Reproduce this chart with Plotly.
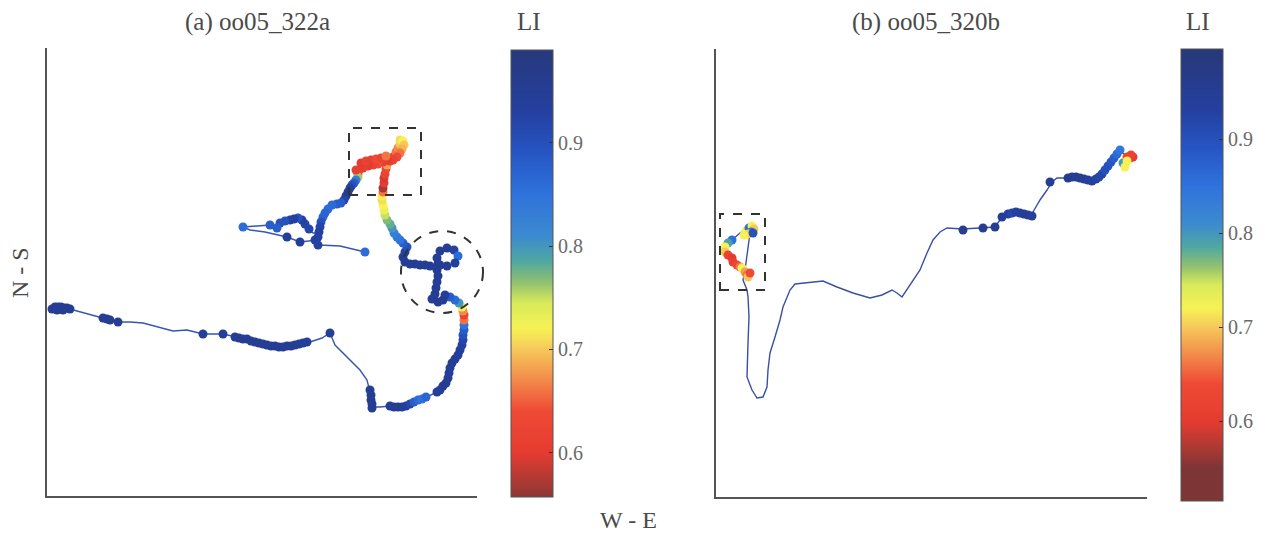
import plotly.graph_objects as go

# ---------------- data (distance units, easting / northing) ----------------
# Panel (a) oo05_322a : full track
track_a_x = [6, 11, 19, 26, 36, 48, 56, 63, 71, 83, 96, 110, 126, 140, 156, 176, 190, 203, 218, 233,
             248, 263, 275, 283, 288, 300, 313, 320, 323, 325, 333, 343, 353, 363, 370, 380, 390, 400,
             403, 410, 416, 417, 417, 415, 408, 398, 391, 385, 388, 390, 391, 390, 390, 393, 400, 407,
             411, 408, 400, 393, 383, 373, 363, 358, 356, 360, 353, 346, 340, 336, 335, 336, 338, 341,
             346, 351, 353, 356, 353, 346, 336, 326, 316, 311, 311, 308, 303, 298, 293, 283, 280, 275,
             273, 271, 266, 256, 250, 243, 233, 230, 223, 208, 196, 203, 218, 240, 253, 270, 273, 293,
             308, 318]
track_a_y = [187, 189, 188, 186, 183, 180, 178, 176, 174, 174, 173, 169, 165, 166, 162, 162, 159, 156, 152, 149,
             151, 154, 158, 163, 151, 139, 126, 116, 104, 89, 89, 90, 89, 92, 96, 99, 104, 114,
             129, 139, 153, 169, 181, 189, 196, 198, 194, 197, 205, 214, 220, 226, 238, 245, 248, 246,
             240, 233, 230, 231, 230, 231, 232, 234, 239, 249, 256, 263, 276, 286, 299, 309, 319, 333,
             339, 348, 356, 353, 343, 336, 334, 331, 328, 324, 319, 314, 309, 299, 293, 291, 286, 279,
             269, 263, 263, 274, 279, 276, 273, 268, 271, 270, 269, 266, 264, 259, 254, 256, 251, 250,
             246, 244]

# Panel (a): positional fixes and their LI value
fix_a_x = [5, 8, 11, 14, 17, 20, 23, 10, 16,
           56, 60, 63, 71, 156, 176,
           188, 192, 196, 200, 204, 208, 212, 216, 220, 224, 228, 232, 236, 240, 244, 248, 252, 256, 260, 283,
           323, 324, 324, 325, 325,
           343, 347, 351, 355, 359, 363, 367, 371, 375, 379,
           390, 393, 396, 399, 401, 402, 403, 405, 408, 411, 413, 415, 416, 416, 417, 417, 417, 417, 416, 415,
           412, 408, 403,
           398, 396, 391, 385, 388, 389, 390, 391, 390, 391, 390, 393, 400, 407, 411, 408, 400, 393, 383, 378,
           373, 368, 363, 358, 356, 358, 360,
           356, 353, 350, 347, 345, 343, 340, 338, 337, 336, 335, 335, 336, 336, 337, 337, 338, 339, 340, 343,
           346, 349, 351, 353, 353, 356, 357, 355, 353, 350, 346, 341, 336, 331, 326, 321, 316, 312, 311, 311,
           309, 307, 305, 303, 301, 299, 297, 294, 290, 285, 281, 278, 276, 274, 273, 272, 271,
           262, 258, 255, 251, 247, 243, 238, 233, 230, 223, 196,
           240, 253, 268, 271, 318,
           309, 314, 319, 324, 329, 334, 339]
fix_a_y = [187, 189, 189, 189, 188, 188, 187, 186, 186,
           178, 177, 176, 174, 162, 162,
           159, 158, 157, 157, 155, 154, 153, 152, 151, 150, 150, 149, 149, 150, 150, 151, 152, 153, 154, 163,
           106, 101, 96, 92, 88,
           90, 89, 89, 89, 90, 92, 94, 96, 97, 99,
           104, 106, 110, 113, 118, 123, 128, 133, 137, 141, 146, 151, 156, 161, 166, 171, 176, 181, 185, 189,
           193, 196, 199,
           201, 196, 194, 197, 202, 208, 214, 220, 226, 232, 238, 245, 248, 246, 240, 233, 230, 231, 230, 231,
           231, 232, 232, 234, 239, 244, 249,
           253, 256, 259, 263, 268, 272, 276, 281, 286, 291, 296, 300, 304, 308, 313, 318, 322, 327, 331, 335,
           339, 344, 348, 352, 356, 355, 351, 347, 343, 339, 336, 336, 334, 332, 331, 330, 328, 326, 322, 319,
           316, 313, 311, 308, 304, 300, 296, 293, 292, 291, 287, 283, 279, 274, 269, 264, 259,
           267, 272, 276, 278, 277, 276, 275, 273, 268, 271, 269,
           259, 254, 256, 251, 244,
           326, 333, 335, 336, 337, 338, 340]
fix_a_li = [0.95, 0.95, 0.95, 0.95, 0.95, 0.95, 0.95, 0.95, 0.95,
            0.95, 0.95, 0.95, 0.95, 0.94, 0.94,
            0.95, 0.95, 0.95, 0.95, 0.95, 0.95, 0.95, 0.95, 0.95, 0.95, 0.95, 0.95, 0.95, 0.95, 0.95, 0.95, 0.95,
            0.94, 0.94, 0.94,
            0.95, 0.95, 0.95, 0.95, 0.95,
            0.95, 0.95, 0.95, 0.95, 0.94, 0.92, 0.88, 0.86, 0.85, 0.87,
            0.94, 0.94, 0.95, 0.95, 0.95, 0.94, 0.94, 0.95, 0.95, 0.94, 0.94, 0.93, 0.92, 0.9, 0.88, 0.85, 0.66,
            0.62, 0.67, 0.72,
            0.8, 0.86, 0.88,
            0.94, 0.95, 0.95, 0.95, 0.95, 0.95, 0.95, 0.95, 0.95, 0.95, 0.95, 0.95, 0.95, 0.93, 0.86, 0.94, 0.95,
            0.95, 0.95, 0.95,
            0.95, 0.95, 0.95, 0.95, 0.94, 0.93, 0.9,
            0.88, 0.85, 0.84, 0.83, 0.8, 0.78, 0.77, 0.75, 0.73, 0.72, 0.71, 0.72, 0.66, 0.57, 0.6, 0.59, 0.62,
            0.63, 0.68, 0.62,
            0.62, 0.66, 0.67, 0.7, 0.71, 0.72, 0.7, 0.69, 0.66, 0.64, 0.62, 0.6, 0.61, 0.64, 0.62, 0.6, 0.61,
            0.6, 0.62, 0.76,
            0.83, 0.88, 0.9, 0.93, 0.95, 0.95, 0.92, 0.88, 0.88, 0.86, 0.86, 0.87, 0.87, 0.9, 0.92, 0.93, 0.93,
            0.92, 0.92, 0.93, 0.9, 0.93, 0.93, 0.9, 0.9, 0.88, 0.88, 0.86,
            0.94, 0.94, 0.93, 0.93, 0.86,
            0.61, 0.6, 0.62, 0.61, 0.64, 0.62, 0.66]

# Panel (b) oo05_320b : full track
track_b_x = [32, 29, 24, 17, 12, 9, 12, 16, 24, 32, 34, 32, 29, 27, 31, 32, 33, 32, 31, 31, 36, 41, 47, 51,
             52, 54, 59, 64, 67, 74, 79, 91, 107, 121, 137, 154, 166, 176, 181, 186, 194, 204, 211, 217,
             224, 231, 247, 267, 279, 286, 296, 304, 314, 317, 324, 331, 336, 341, 357, 371, 377, 384,
             391, 397, 404, 409, 414, 409]
track_b_y = [220, 225, 230, 235, 242, 250, 254, 257, 264, 269, 264, 247, 227, 217, 207, 200, 180, 154, 134, 120,
             107, 99, 100, 110, 127, 144, 160, 177, 190, 207, 213, 214, 216, 210, 204, 199, 202, 207, 204,
             200, 212, 227, 244, 257, 265, 269, 268, 269, 270, 280, 284, 283, 280, 285, 297, 307, 315, 319,
             319, 317, 315, 320, 330, 339, 347, 342, 339, 334]

# Panel (b): positional fixes and their LI value
fix_b_x = [30, 33, 36, 38, 35, 32, 37, 28,
           16, 12, 9, 9, 12, 16, 17, 21, 24, 26, 29, 31, 32, 34,
           247, 267, 279, 286, 292, 296, 300, 304, 308, 312, 316, 334,
           352, 356, 360, 364, 368, 372, 376, 380, 383, 386, 389, 392, 395, 398, 401, 404,
           411, 414, 417, 415, 407, 409, 411]
fix_b_y = [266, 269, 271, 268, 265, 263, 264, 262,
           257, 254, 250, 245, 242, 239, 235, 232, 230, 229, 225, 222, 220, 224,
           267, 269, 270, 280, 283, 284, 285, 284, 283, 282, 281, 315,
           319, 320, 320, 319, 318, 317, 316, 318, 320, 323, 327, 331, 335, 339, 343, 347,
           340, 339, 340, 342, 334, 330, 336]
fix_b_li = [0.72, 0.86, 0.72, 0.7, 0.84, 0.7, 0.9, 0.72,
            0.85, 0.79, 0.72, 0.7, 0.62, 0.6, 0.61, 0.63, 0.66, 0.72, 0.68, 0.66, 0.7, 0.64,
            0.95, 0.95, 0.95, 0.95, 0.93, 0.92, 0.93, 0.94, 0.95, 0.95, 0.94, 0.95,
            0.95, 0.96, 0.95, 0.95, 0.95, 0.94, 0.94, 0.93, 0.92, 0.92, 0.9, 0.9, 0.89, 0.88, 0.86, 0.84,
            0.62, 0.6, 0.6, 0.62, 0.8, 0.72, 0.72]

# colour bar ticks and ranges
cb_ticks = [0.6, 0.7, 0.8, 0.9]
li_range_a = [0.557, 0.99]
li_range_b = [0.515, 0.996]

# ---------------- styling ----------------
W, H = 1268, 534
SERIF = "Liberation Serif, Times New Roman, serif"
TXT = "#4a4a4a"

# reversed-jet style palette (LI value -> colour)
li_stops = [(0.55, (125, 53, 53)), (0.575, (178, 58, 51)), (0.60, (229, 59, 48)), (0.64, (238, 74, 53)),
            (0.67, (242, 138, 74)), (0.70, (246, 200, 90)), (0.72, (246, 242, 85)), (0.745, (216, 234, 90)),
            (0.765, (144, 192, 112)), (0.785, (80, 168, 160)), (0.81, (60, 138, 208)), (0.85, (47, 114, 220)),
            (0.89, (38, 86, 196)), (0.93, (36, 64, 160)), (1.0, (40, 56, 118))]


def colour_at(v):
    if v <= li_stops[0][0]:
        return li_stops[0][1]
    for (a, ca), (b, cb) in zip(li_stops[:-1], li_stops[1:]):
        if a <= v <= b:
            t = (v - a) / (b - a)
            return tuple(ca[i] + t * (cb[i] - ca[i]) for i in range(3))
    return li_stops[-1][1]


def scale_for(lo, hi):
    pts = [lo] + [v for v, _ in li_stops if lo < v < hi] + [hi]
    return [[(v - lo) / (hi - lo), "rgb(%d,%d,%d)" % tuple(round(x) for x in colour_at(v))] for v in pts]


# plot areas in pixels
A_X = (47, 477)
A_Y = (48, 496)
B_X = (716, 1147)
B_Y = (49, 497)
A_RANGE_X = (0, 430)
A_RANGE_Y = (0, 448)
B_RANGE_X = (0, 431)
B_RANGE_Y = (0, 448)


def to_paper(x, y, px, py, rx, ry):
    fx = px[0] + (x - rx[0]) / (rx[1] - rx[0]) * (px[1] - px[0])
    fy = py[1] - (y - ry[0]) / (ry[1] - ry[0]) * (py[1] - py[0])
    return fx / W, 1 - fy / H


fig = go.Figure()

fig.add_trace(go.Scatter(x=track_a_x, y=track_a_y, mode="lines", xaxis="x", yaxis="y",
                         line=dict(color="#3556b4", width=1.4), showlegend=False, hoverinfo="skip"))
fig.add_trace(go.Scatter(x=fix_a_x, y=fix_a_y, mode="markers", xaxis="x", yaxis="y",
                         marker=dict(color=fix_a_li, coloraxis="coloraxis", size=9, opacity=1,
                                     line=dict(width=0)), showlegend=False))
fig.add_trace(go.Scatter(x=track_b_x, y=track_b_y, mode="lines", xaxis="x2", yaxis="y2",
                         line=dict(color="#3a4fa6", width=1.4), showlegend=False, hoverinfo="skip"))
fig.add_trace(go.Scatter(x=fix_b_x, y=fix_b_y, mode="markers", xaxis="x2", yaxis="y2",
                         marker=dict(color=fix_b_li, coloraxis="coloraxis2", size=9, opacity=1,
                                     line=dict(width=0)), showlegend=False))

axis_common = dict(showline=True, linecolor="#555555", linewidth=2, showgrid=False, zeroline=False,
                   showticklabels=False, ticks="", mirror=False)

cb_common = dict(thickness=42, xanchor="left", xpad=0, ypad=0, yanchor="middle", lenmode="fraction",
                 outlinecolor="#555555", outlinewidth=1, ticks="inside", ticklen=4, tickcolor="#333333",
                 tickvals=cb_ticks, ticktext=[str(t) for t in cb_ticks],
                 tickfont=dict(family=SERIF, size=20, color="#6a6a6a"))

fig.update_layout(
    width=W, height=H, margin=dict(l=0, r=0, t=0, b=0),
    paper_bgcolor="white", plot_bgcolor="white",
    xaxis=dict(domain=[A_X[0] / W, A_X[1] / W], range=list(A_RANGE_X), anchor="y", **axis_common),
    yaxis=dict(domain=[1 - A_Y[1] / H, 1 - A_Y[0] / H], range=list(A_RANGE_Y), anchor="x", **axis_common),
    xaxis2=dict(domain=[B_X[0] / W, B_X[1] / W], range=list(B_RANGE_X), anchor="y2", **axis_common),
    yaxis2=dict(domain=[1 - B_Y[1] / H, 1 - B_Y[0] / H], range=list(B_RANGE_Y), anchor="x2", **axis_common),
    coloraxis=dict(colorscale=scale_for(*li_range_a), cmin=li_range_a[0], cmax=li_range_a[1],
                   colorbar=dict(x=511 / W, y=1 - 273.5 / H, len=447 / H, **cb_common)),
    coloraxis2=dict(colorscale=scale_for(*li_range_b), cmin=li_range_b[0], cmax=li_range_b[1],
                    colorbar=dict(x=1181 / W, y=1 - 275 / H, len=452 / H, **cb_common)),
)


def ann(text, px, py, size=19, angle=0):
    fig.add_annotation(text=text, x=px / W, y=1 - py / H, xref="paper", yref="paper", showarrow=False,
                       font=dict(family=SERIF, size=size, color=TXT), textangle=angle,
                       xanchor="center", yanchor="middle")


ann("(a) oo05_322a", 257, 22, size=25)
ann("(b) oo05_320b", 926, 22, size=25)
ann("LI", 529, 22, size=25)
ann("LI", 1198, 22, size=25)
ann("N - S", 20, 273, size=24, angle=-90)
ann("W - E", 628, 520, size=24)


def outline(x0, y0, x1, y1, px, py, rx, ry, kind="rect"):
    a = to_paper(x0, y0, px, py, rx, ry)
    b = to_paper(x1, y1, px, py, rx, ry)
    fig.add_shape(type=kind, xref="paper", yref="paper", x0=a[0], y0=a[1], x1=b[0], y1=b[1],
                  line=dict(color="#333333", width=2, dash="dash"))


outline(302, 301, 374, 368, A_X, A_Y, A_RANGE_X, A_RANGE_Y)
outline(354, 183, 436, 265, A_X, A_Y, A_RANGE_X, A_RANGE_Y, kind="circle")
outline(4, 207, 49, 283, B_X, B_Y, B_RANGE_X, B_RANGE_Y)

fig.write_html("out.html", config={"displayModeBar": False},
               post_script="document.body.style.margin='0';")
